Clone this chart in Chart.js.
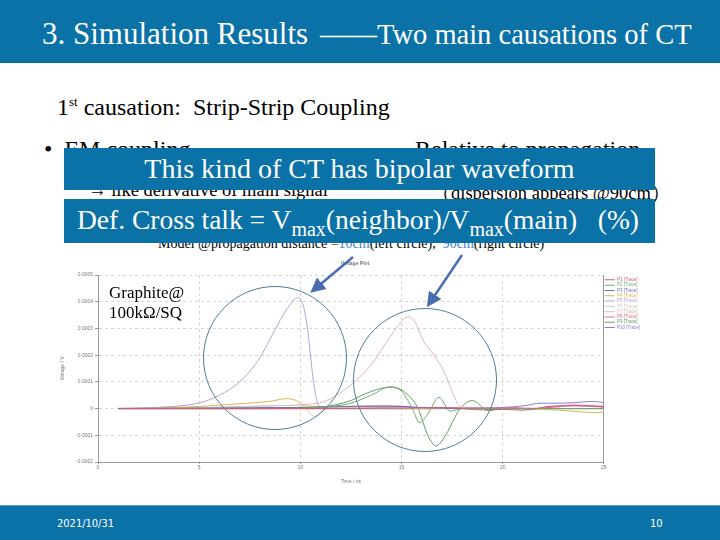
<!DOCTYPE html>
<html>
<head>
<meta charset="utf-8">
<script src="https://cdn.jsdelivr.net/npm/chart.js@4"></script>
<style>
  html,body{margin:0;padding:0;background:#fff}
  #slide{position:relative;width:720px;height:540px;overflow:hidden;font-family:"Liberation Serif","Times New Roman",serif;color:#000}
  .band{position:absolute;left:0;width:720px;background:#0b72a7}
  .abs{position:absolute;white-space:nowrap}
  .box{position:absolute;left:64px;width:591px;background:#0b72a7;color:#fff;text-align:center}
  .ring{position:absolute;border:1.5px solid #4f7d99;border-radius:50%;box-sizing:border-box;pointer-events:none}
  #wrap{position:absolute;left:60px;top:255px;width:600px;height:230px}
</style>
</head>
<body>
<div id="slide">
  <div class="band" style="top:0;height:63px"></div>
  <div class="abs" style="left:42px;top:16px;font-size:31px;color:#fff">3. Simulation Results</div>
  <div class="abs" style="left:320px;top:19px;font-size:28.5px;color:#fff">——Two main causations of CT</div>

  <div class="abs" style="left:57px;top:94px;font-size:24px">1<sup style="font-size:13px">st</sup> causation:&nbsp; Strip-Strip Coupling</div>
  <div class="abs" style="left:44px;top:136px;font-size:24px">•&nbsp;&nbsp;EM coupling</div>
  <div class="abs" style="left:415px;top:136px;font-size:24px;white-space:normal;width:230px">Relative to propagation distance</div>
  <div class="abs" style="left:88px;top:180px;font-size:18.5px">→ like derivative of main signal</div>
  <div class="abs" style="left:432px;top:180px;font-size:18.5px">（dispersion appears @90cm）</div>
  <div class="abs" style="left:158px;top:236px;font-size:14px">Model @propagation distance =<span style="color:#3b7fd4">10cm</span>(left circle),&nbsp;&nbsp;<span style="color:#3b7fd4">90cm</span>(right circle)</div>

  <div class="box" style="top:148px;height:42px;font-size:28px;line-height:42px">This kind of CT has bipolar waveform</div>
  <div class="box" style="top:199px;height:44px;font-size:27.5px;line-height:42px;text-align:left"><span style="padding-left:13px">Def. Cross talk = V<sub style="font-size:20px">max</sub>(neighbor)/V<sub style="font-size:20px">max</sub>(main)&nbsp;&nbsp; (%)</span></div>

  <div id="wrap"><canvas id="chart"></canvas></div>

  <div class="abs" style="left:109px;top:283px;font-size:17px;line-height:20px">Graphite@<br>100kΩ/SQ</div>

  <div class="ring" style="left:203px;top:286px;width:144px;height:144px"></div>
  <div class="ring" style="left:353px;top:308px;width:144px;height:144px"></div>
  <svg class="abs" style="left:0;top:0" width="720" height="540">
    <defs>
      <marker id="ah" markerWidth="6" markerHeight="6" refX="3" refY="3" orient="auto">
        <path d="M0,0 L6,3 L0,6 z" fill="#4a6eb0"/>
      </marker>
    </defs>
    <line x1="353" y1="257" x2="316" y2="288" stroke="#4a6eb0" stroke-width="2.5" marker-end="url(#ah)"/>
    <line x1="462" y1="255" x2="431" y2="301" stroke="#4a6eb0" stroke-width="2.5" marker-end="url(#ah)"/>
  </svg>

  <div class="band" style="top:505px;height:35px;border-top:1px solid #5aa0c8"></div>
  <div class="abs" style="left:57px;top:517px;font-size:11px;color:#fff;font-family:'DejaVu Sans Condensed',sans-serif">2021/10/31</div>
  <div class="abs" style="left:650px;top:517px;font-size:11px;color:#fff;font-family:'DejaVu Sans Condensed',sans-serif">10</div>
</div>

<script>
// axis setup
const xMin = 0, xMax = 25, xStep = 5
const yMin = -0.0002, yMax = 0.0005, yStep = 0.0001

const seriesNames = ["P1 [Trace]","P2 [Trace]","P3 [Trace]","P4 [Trace]","P5 [Trace]","P6 [Trace]","P7 [Trace]","P8 [Trace]","P9 [Trace]","P10 [Trace]"]
const seriesColors = ["#c8607a","#74a874","#6c6cc0","#d8b848","#b4a0dc","#d4ccb8","#e2b4bc","#e06c8c","#5e9e64","#8c7cd8"]

// time (ns) / voltage (V)
const p1T = [1, 10, 15, 17, 18, 19, 20, 21, 22.6, 24, 25]
const p1V = [0, 0, 0.000002, 0.000004, 0, -0.000005, -0.000003, -0.000006, 0.00001, 0.00001, 0.000005]

const p2T = [1, 8, 11, 12.5, 13.5, 14.4, 15, 15.5, 15.9, 16.3, 16.85, 17.4, 18, 19, 25]
const p2V = [0, 0, 0.000005, 0.00002, 0.00005, 0.00008, 0.000065, 0.000005, -0.000053, -0.00002, 0.000042, -0.00001, 0, 0, 0]

const p3T = [1, 5, 10, 12, 14, 16, 18, 20, 25]
const p3V = [0, 0.000002, 0.000004, 0.000008, 0.00001, 0.000004, 0, 0, 0]

const p4T = [1, 3, 5, 7, 8.5, 9.3, 9.8, 10.2, 11, 13, 15, 17, 20, 22, 23.5, 24.6, 25]
const p4V = [0, 0.000002, 0.000008, 0.000018, 0.000027, 0.000037, 0.00003, 0.00001, 0.000008, 0.000006, 0.000002, 0, 0, -0.000003, -0.00001, -0.000015, -0.000013]

const p5T = [1, 3, 5, 6, 7, 8, 8.5, 9, 9.5, 9.85, 10.2, 10.4, 10.65, 10.85, 11.1, 12, 15, 20, 25]
const p5V = [0, 0.000005, 0.000021, 0.00005, 0.0001, 0.00019, 0.00026, 0.00033, 0.00039, 0.000415, 0.00037, 0.00027, 0.0001, 0.00002, 0, 0, 0, 0, 0]

const p6T = [1, 5, 8, 9.5, 10.2, 10.5, 10.75, 11.0, 11.3, 11.8, 13, 25]
const p6V = [0, 0.000003, 0.000008, 0.000012, 0.000004, -0.00002, -0.00003, -0.000012, 0.000004, 0.000006, 0, 0]

const p7T = [1, 5, 8, 10.2, 11.2, 12.3, 13.5, 14.5, 15, 15.3, 15.6, 16.1, 16.6, 17.1, 17.5, 17.8, 18.1, 19, 25]
const p7V = [0, 0.000003, 0.00001, 0.000015, 0.000027, 0.000077, 0.000164, 0.000276, 0.000326, 0.000344, 0.000332, 0.000251, 0.0002, 0.000139, 0.000065, 0.000015, 0, 0, 0]

const p8T = [1, 12, 16, 18, 19.5, 20.5, 21.5, 22.5, 23.5, 25]
const p8V = [0, 0, 0, 0.000002, 0.000001, 0.000003, 0, 0.000006, 0.000012, 0.000008]

const p9T = [1, 8, 11, 12.5, 13.1, 14.5, 15.1, 15.8, 16.3, 16.7, 17.1, 17.9, 18.5, 19.3, 20, 25]
const p9V = [0, 0, 0.000006, 0.00003, 0.000052, 0.000081, 0.000065, 0.000003, -0.0001, -0.00014, -0.00011, 0, 0.00003, -0.000008, 0, 0]

const p10T = [1, 5, 10, 13, 15, 16, 18, 20, 21, 21.9, 22.6, 23.5, 24.5, 25]
const p10V = [0, 0.000002, 0.000003, 0.000008, 0.000009, 0.000002, 0.000002, 0.000004, 0.00001, 0.00002, 0.00002, 0.000022, 0.000027, 0.000022]

const allT = [p1T,p2T,p3T,p4T,p5T,p6T,p7T,p8T,p9T,p10T]
const allV = [p1V,p2V,p3V,p4V,p5V,p6V,p7V,p8V,p9V,p10V]

const datasets = seriesNames.map((name,i)=>({
  label:name,
  data:allT[i].map((t,j)=>({x:t, y:allV[i][j]})),
  borderColor:seriesColors[i],
  backgroundColor:seriesColors[i],
  borderWidth: i===7 ? 1.5 : 1,
  pointRadius:0,
  cubicInterpolationMode:"monotone",
  fill:false
}))

const tickFont = { family:"Liberation Sans", size:5 }
const gridCol = "#d4d4d4"

new Chart(document.getElementById("chart"),{
  type:"line",
  data:{ datasets },
  options:{
    responsive:true,
    maintainAspectRatio:false,
    animation:false,
    layout:{ padding:{ top:2, right:10, left:0, bottom:0 } },
    scales:{
      x:{
        type:"linear", min:xMin, max:xMax,
        ticks:{ stepSize:xStep, font:tickFont, color:"#777", padding:1 },
        grid:{ color:gridCol, tickLength:2, tickColor:"#999" },
        border:{ color:"#999", dash:[3,3] },
        title:{ display:true, text:"Time / ns", font:tickFont, color:"#777", padding:{top:1,bottom:0} },
        afterFit:s=>{ s.height = 23 }
      },
      y:{
        min:yMin, max:yMax,
        ticks:{ stepSize:yStep, font:tickFont, color:"#777", padding:2,
          callback:v=>{ const r = Math.round(v*1e4)/1e4; return r===0 ? "0" : r.toFixed(4) } },
        grid:{ color:gridCol, tickLength:3, tickColor:"#999" },
        border:{ color:"#999", dash:[3,3] },
        title:{ display:true, text:"Voltage / V", font:tickFont, color:"#777", padding:{top:0,bottom:4} },
        afterFit:s=>{ s.width = 38 }
      },
      yr:{
        position:"right", min:yMin, max:yMax,
        ticks:{ display:false },
        grid:{ drawOnChartArea:false, drawTicks:false },
        border:{ color:"#999" },
        afterFit:s=>{ s.width = 0 }
      }
    },
    plugins:{
      title:{ display:true, text:"Voltage Plot", font:tickFont, color:"#777", padding:{top:4,bottom:8} },
      tooltip:{ enabled:false },
      legend:{
        position:"right", align:"start",
        title:{ display:true, text:" ", font:{ size:4 }, padding:{ top:11, bottom:4 } },
        labels:{
          font:{ family:"Liberation Sans", size:4.5 },
          boxWidth:10, boxHeight:1, padding:0.8,
          generateLabels:chart=>Chart.defaults.plugins.legend.labels.generateLabels(chart).map(l=>{
            l.fontColor = seriesColors[l.datasetIndex]
            l.fillStyle = seriesColors[l.datasetIndex]
            l.lineWidth = 0
            return l
          })
        }
      }
    }
  }
})
</script>
</body>
</html>
